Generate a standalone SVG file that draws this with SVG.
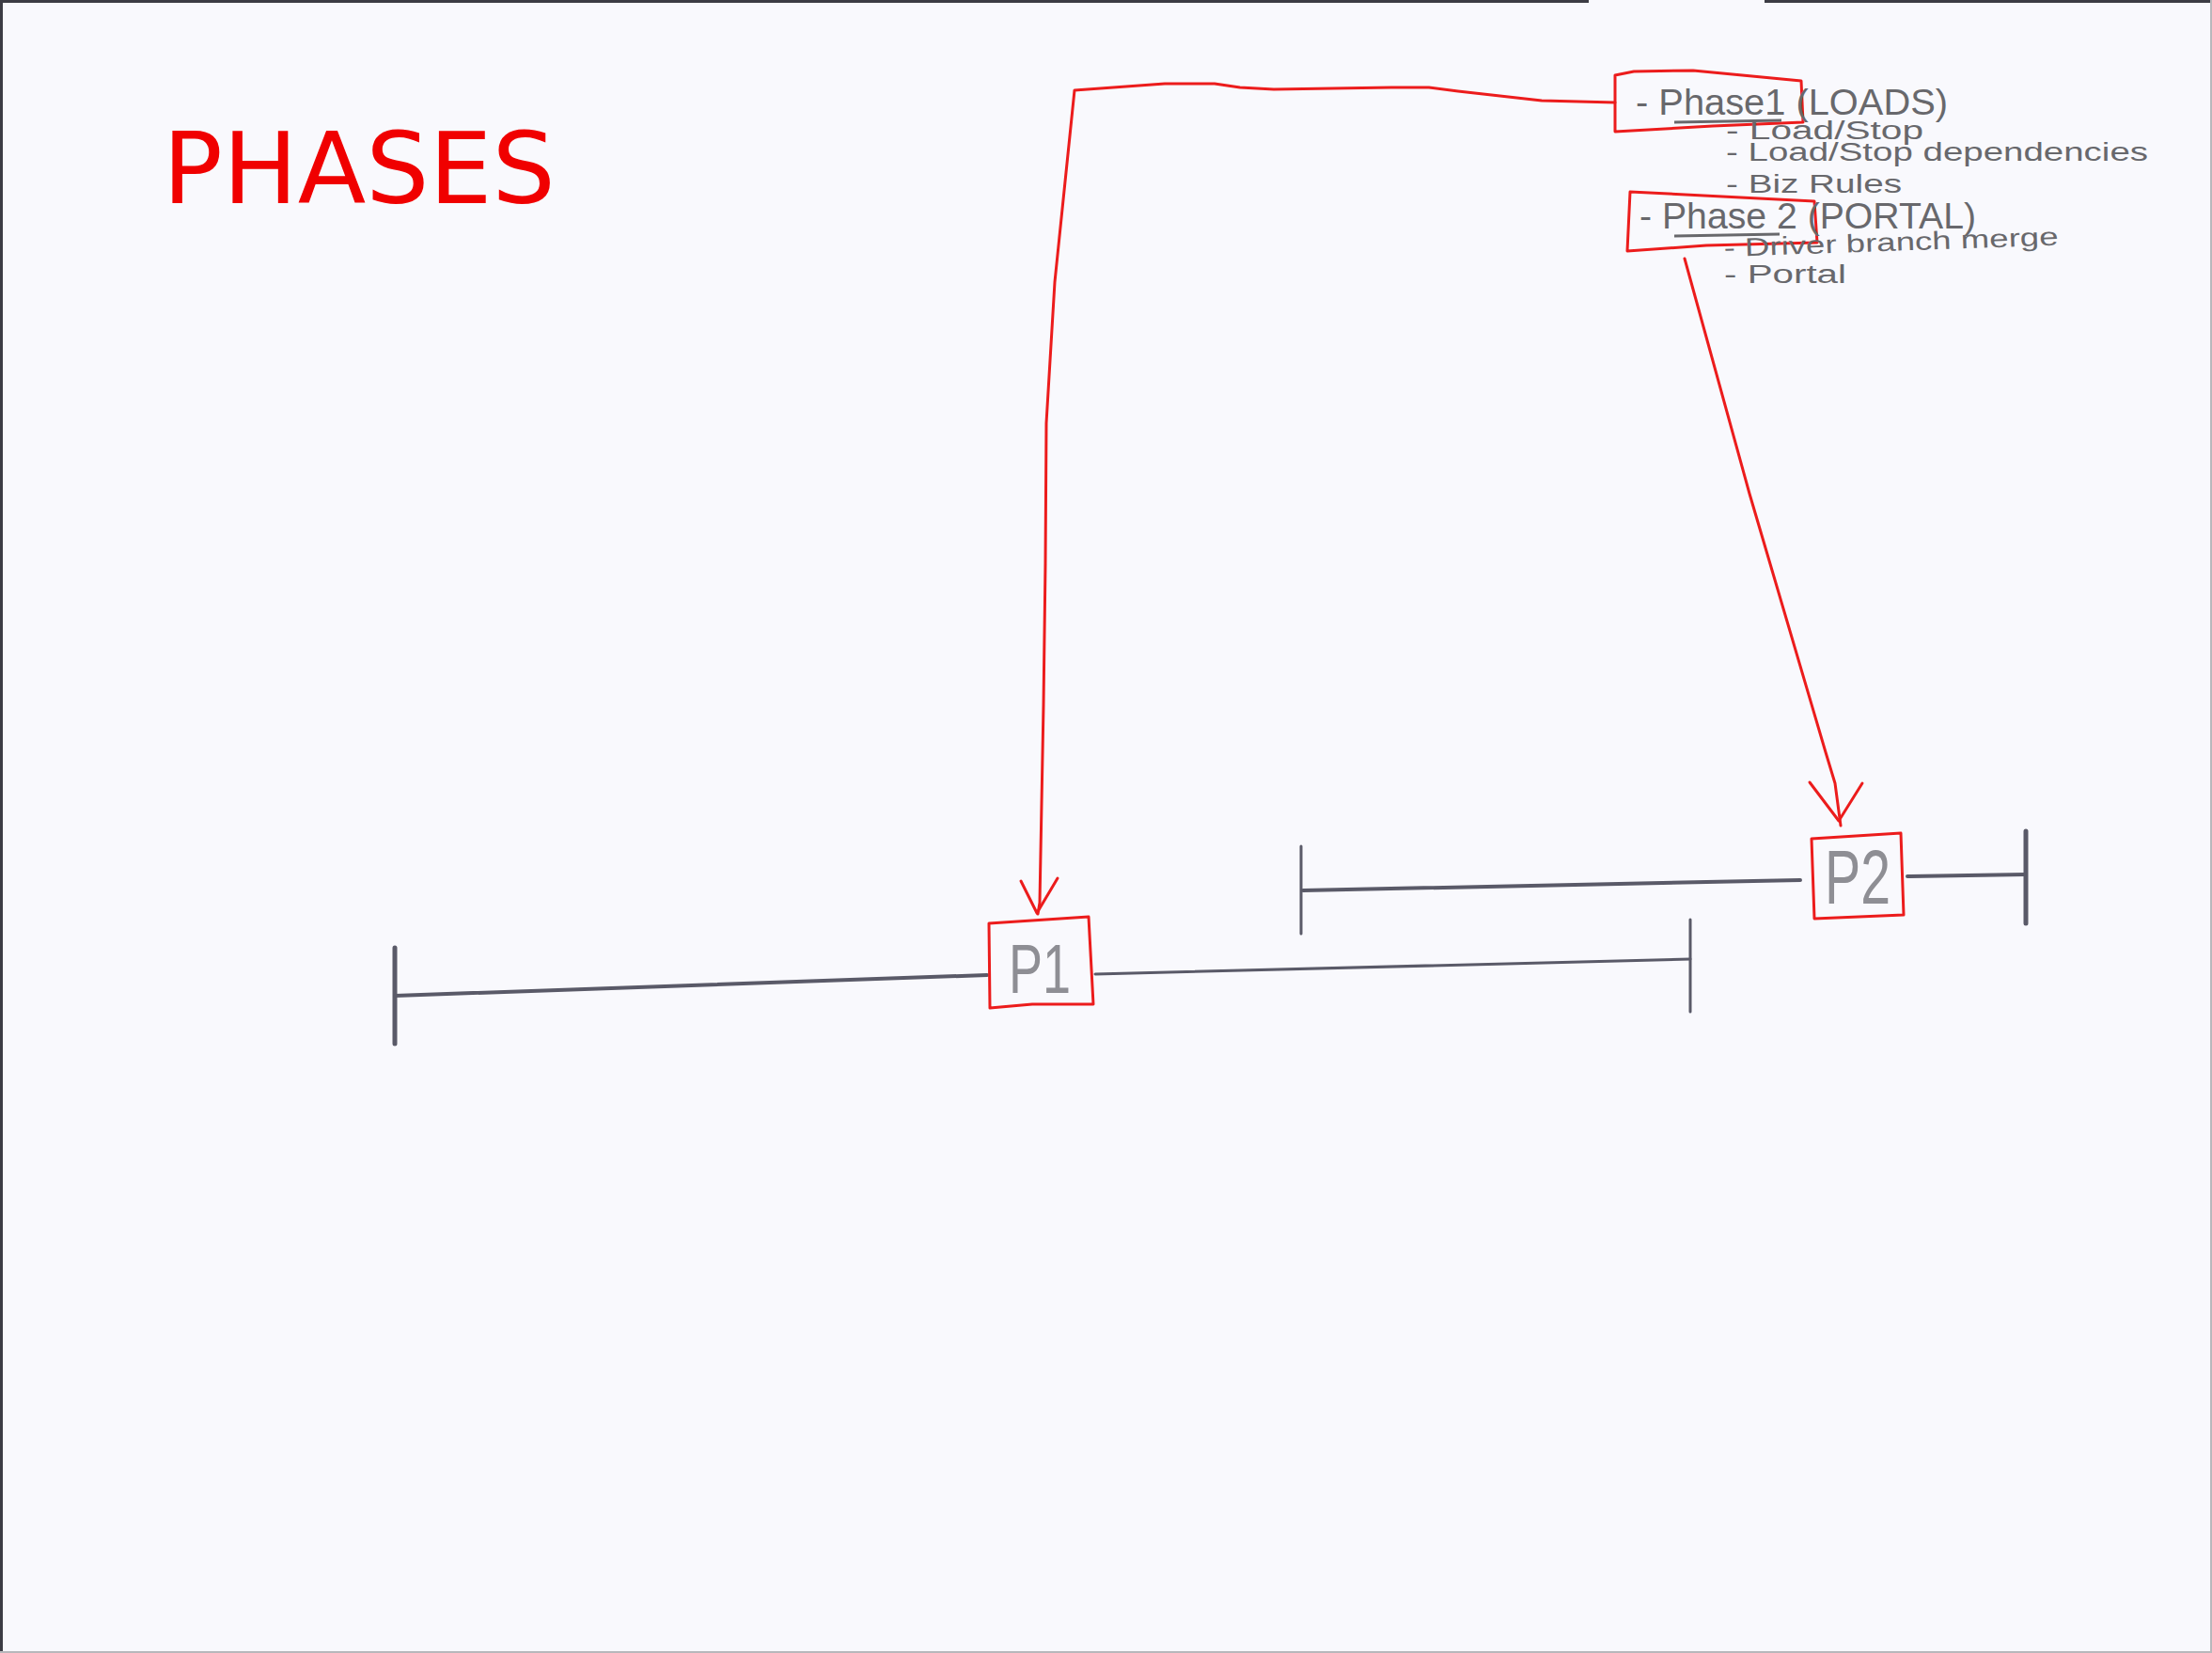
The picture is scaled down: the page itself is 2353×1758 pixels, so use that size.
<svg xmlns="http://www.w3.org/2000/svg" width="2353" height="1758" viewBox="0 0 2353 1758">
  <defs>
    <style>
      .bg { fill: #f9f9fd; }
      .frame-dark { stroke: #3c3c44; stroke-width: 3; fill: none; }
      .frame-light { stroke: #b8b8bc; stroke-width: 2; fill: none; }
      .title { font-family: "DejaVu Sans", sans-serif; font-size: 106px; fill: #f00000; }
      .hand { font-family: "Liberation Sans", sans-serif; fill: #68686c; }
      .big { font-size: 38px; }
      .small { font-size: 27px; }
      .red { stroke: #ec1c1c; stroke-width: 3; fill: none; stroke-linejoin: round; stroke-linecap: round; }
      .under { stroke: #68686c; stroke-width: 3; fill: none; }
      .bar { stroke: #5a5a68; stroke-linecap: round; fill: none; }
      .lbl { font-family: "Liberation Sans", sans-serif; fill: #8e8e94; text-anchor: middle; }
    </style>
  </defs>

  <rect class="bg" x="0" y="0" width="2353" height="1758"/>
  <path class="frame-dark" d="M1.5 1758 V1.5 H1690 M1877 1.5 H2353"/>
  <path class="frame-light" d="M2352 0 V1757 H0"/>

  <g id="title">
    <text class="title" x="173" y="216">PHASES</text>
  </g>

  <g id="phase1-note">
    <path class="red" d="M1718 80 L1738 76 L1801 75 L1916 86 L1918 130 L1822 134 L1718 140 Z"/>
    <text class="hand big" x="1740" y="122" textLength="332" lengthAdjust="spacingAndGlyphs">- Phase1 (LOADS)</text>
    <path class="under" d="M1781 130 L1895 128"/>
    <text class="hand small" x="1836" y="148" textLength="210" lengthAdjust="spacingAndGlyphs">- Load/Stop</text>
    <text class="hand small" x="1836" y="171" textLength="449" lengthAdjust="spacingAndGlyphs">- Load/Stop dependencies</text>
    <text class="hand small" x="1836" y="205" textLength="187" lengthAdjust="spacingAndGlyphs">- Biz Rules</text>
  </g>

  <g id="phase2-note">
    <path class="red" d="M1734 204 L1930 214 L1933 258 L1815 261 L1731 267 Z"/>
    <text class="hand big" x="1744" y="243" textLength="358" lengthAdjust="spacingAndGlyphs">- Phase 2 (PORTAL)</text>
    <path class="under" d="M1781 251 L1893 249"/>
    <text class="hand small" x="1834" y="273" textLength="356" lengthAdjust="spacingAndGlyphs" transform="rotate(-2 1834 273)">- Driver branch merge</text>
    <text class="hand small" x="1834" y="301" textLength="130" lengthAdjust="spacingAndGlyphs">- Portal</text>
  </g>

  <g id="timeline-p1">
    <path class="bar" stroke-width="5" d="M420 1008 V1110"/>
    <path class="bar" stroke-width="4" d="M420 1059 L1050 1037"/>
    <path class="bar" stroke-width="3" stroke="#8a8a96" d="M1165 1036 L1798 1020"/>
    <path class="bar" stroke-width="3" d="M1798 978 V1076"/>
  </g>

  <g id="timeline-p2">
    <path class="bar" stroke-width="3" stroke="#7c7c88" d="M1384 900 V993"/>
    <path class="bar" stroke-width="4" d="M1386 947 L1915 936"/>
    <path class="bar" stroke-width="4" d="M2029 932 L2155 930"/>
    <path class="bar" stroke-width="5" d="M2155 884 V982"/>
  </g>

  <g id="p1">
    <path class="red" d="M1052 982 L1158 975 L1163 1068 L1098 1068 L1053 1072 Z"/>
    <text class="lbl" x="1106" y="1056" font-size="74" textLength="66" lengthAdjust="spacingAndGlyphs">P1</text>
  </g>

  <g id="p2">
    <path class="red" d="M1927 892 L2022 886 L2025 973 L1930 977 Z"/>
    <text class="lbl" x="1976" y="961" font-size="82" fill="#86868c" textLength="70" lengthAdjust="spacingAndGlyphs">P2</text>
  </g>

  <g id="connectors">
    <path class="red" d="M1718 109 L1640 107 L1551 97 L1520 93 L1480 93 L1355 95 L1319 93 L1292 89 L1239 89 L1143 96 L1122 300 L1113 450 L1112 600 L1110 750 L1106 960 L1104 972"/>
    <path class="red" d="M1086 937 L1103 971 L1125 934"/>
    <path class="red" d="M1792 275 L1861 525 L1942 800 L1952 833 L1958 878"/>
    <path class="red" d="M1925 832 L1956 873 L1981 833"/>
  </g>
</svg>
